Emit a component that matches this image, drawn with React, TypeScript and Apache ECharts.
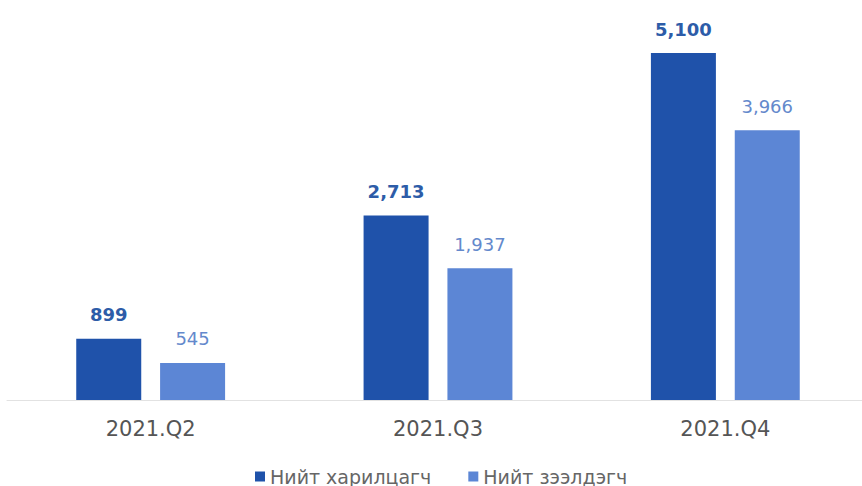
import React, { useEffect, useRef } from "react";
import * as echarts from "echarts";

const categories = ["2021.Q2", "2021.Q3", "2021.Q4"];
const customers = [899, 2713, 5100];
const borrowers = [545, 1937, 3966];
const seriesNames = ["Нийт харилцагч", "Нийт зээлдэгч"];

export default function App() {
  const ref = useRef<HTMLDivElement>(null);
  useEffect(() => {
    const chart = echarts.init(ref.current!, null, { renderer: "svg" });
    const fmt = (p: any) => Number(p.value).toLocaleString("en-US");
    chart.setOption({
      animation: false,
      textStyle: { fontFamily: "DejaVu Sans, sans-serif" },
      grid: { left: 7, right: -7, top: 19, bottom: 86, outerBoundsMode: "none", containLabel: false },
      legend: {
        top: 462,
        left: 250,
        itemWidth: 10,
        itemHeight: 10,
        itemGap: 37,
        icon: "rect",
        textStyle: { fontSize: 19, color: "#666", fontFamily: "DejaVu Sans, sans-serif" },
        data: seriesNames,
      },
      xAxis: {
        type: "category",
        data: categories,
        axisLine: { lineStyle: { color: "#e2e2e2" } },
        axisTick: { show: false },
        axisLabel: { fontSize: 21, color: "#555", margin: 18 },
      },
      yAxis: {
        type: "value",
        min: 0,
        max: 5600,
        show: false,
        splitLine: { show: false },
      },
      series: [
        {
          name: seriesNames[0],
          type: "bar",
          data: customers,
          barWidth: 65,
          barGap: "29%",
          itemStyle: { color: "#1f52aa" },
          label: {
            show: true,
            position: "top",
            distance: 15,
            formatter: fmt,
            fontSize: 18,
            fontWeight: "bold",
            color: "#2d5ca8",
          },
        },
        {
          name: seriesNames[1],
          type: "bar",
          data: borrowers,
          barWidth: 65,
          itemStyle: { color: "#5c86d5" },
          label: {
            show: true,
            position: "top",
            distance: 15,
            formatter: fmt,
            fontSize: 18,
            color: "#6489cc",
          },
        },
      ],
    });
    return () => chart.dispose();
  }, []);
  return <div ref={ref} style={{ width: 862, height: 486, position: "absolute", left: 0, top: 0 }} />;
}
